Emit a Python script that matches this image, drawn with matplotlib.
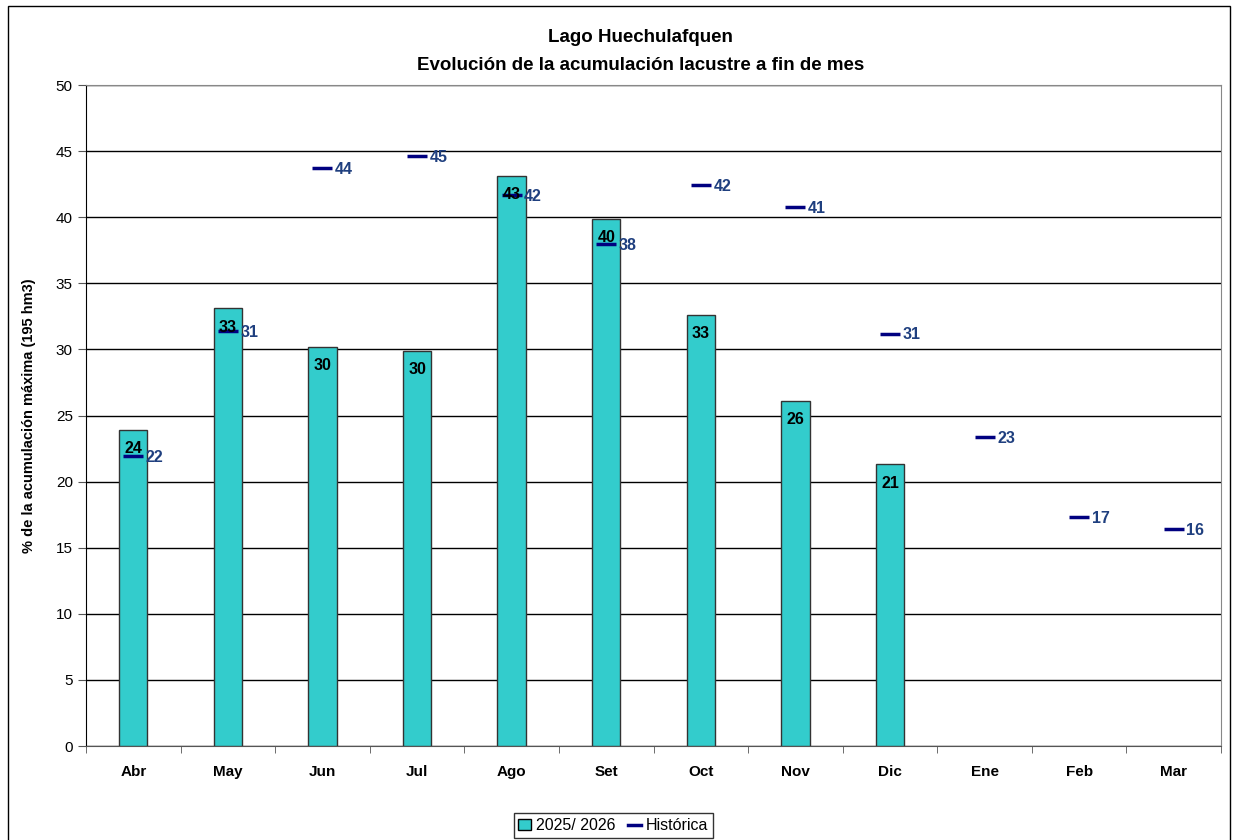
import numpy as np
import matplotlib.pyplot as plt
from matplotlib.lines import Line2D
from matplotlib.patches import Patch, Rectangle

plt.rcParams['font.family'] = ['Liberation Sans', 'DejaVu Sans']

months = ['Abr', 'May', 'Jun', 'Jul', 'Ago', 'Set', 'Oct', 'Nov', 'Dic', 'Ene', 'Feb', 'Mar']
actual = [23.9, 33.1, 30.2, 29.9, 43.1, 39.9, 32.6, 26.1, 21.3]
historic = [21.9, 31.4, 43.7, 44.6, 41.7, 38.0, 42.4, 40.8, 31.2, 23.4, 17.3, 16.4]

fig = plt.figure(figsize=(12.34, 8.4), dpi=100)
ax = fig.add_axes([0.0697, 0.1119, 0.9198, 0.7869])

x = np.arange(len(months))
xa = np.arange(len(actual))
ax.bar(xa, actual, width=0.3, color='#33CCCC', edgecolor='#333333', linewidth=1, zorder=3)
ax.scatter(x, historic, marker='_', s=200, color='#000080', linewidths=2.5, zorder=4)

for xi, v in zip(xa, actual):
    ax.annotate(f'{v:.0f}', (xi, v), xytext=(0, -8), textcoords='offset points',
                ha='center', va='top', fontsize=11.5, fontweight='bold', color='black', zorder=5)
for xi, v in zip(x, historic):
    ax.annotate(f'{v:.0f}', (xi, v), xytext=(9, -1), textcoords='offset points',
                ha='left', va='center', fontsize=11.5, fontweight='bold', color='#1F3F7F', zorder=5)

ax.set_xlim(-0.5, len(months) - 0.5)
ax.set_ylim(0, 50)
ax.set_yticks(range(0, 51, 5))
ax.set_xticks(x)
ax.set_xticklabels(months, fontsize=11, fontweight='bold')
ax.set_xticks(np.arange(-0.5, len(months), 1), minor=True)
ax.tick_params(axis='x', which='major', length=0, pad=14)
ax.tick_params(axis='x', which='minor', length=5, direction='out', color='#555555')
ax.tick_params(axis='y', labelsize=11, length=6, direction='out', color='#555555')
ax.yaxis.grid(True, color='black', linewidth=1, zorder=0)
ax.set_axisbelow(True)
for s in ['top', 'right']:
    ax.spines[s].set_color('#888888')
ax.spines['left'].set_color('black')
ax.spines['bottom'].set_color('#555555')

ax.set_ylabel('% de la acumulación máxima (195 hm3)', fontsize=10.5, fontweight='bold', labelpad=14)
fig.text(0.519, 0.955, 'Lago Huechulafquen', ha='center', va='center', fontsize=13.5, fontweight='bold')
fig.text(0.519, 0.922, 'Evolución de la acumulación lacustre a fin de mes', ha='center', va='center',
         fontsize=13.5, fontweight='bold')

handles = [Patch(facecolor='#33CCCC', edgecolor='black'),
           Line2D([], [], color='#000080', linewidth=2.5)]
leg = fig.legend(handles, ['2025/ 2026', 'Histórica'], loc='center', bbox_to_anchor=(0.497, 0.017),
                 ncol=2, fontsize=11.5, frameon=True, fancybox=False, edgecolor='black',
                 handlelength=0.8, handletextpad=0.3, columnspacing=0.8, borderpad=0.3)
leg.get_frame().set_linewidth(1)

fig.patches.append(Rectangle((0.0065, -0.05), 0.99, 1.043, transform=fig.transFigure,
                             fill=False, edgecolor='black', linewidth=1))

fig.savefig('out.png', dpi=100)
